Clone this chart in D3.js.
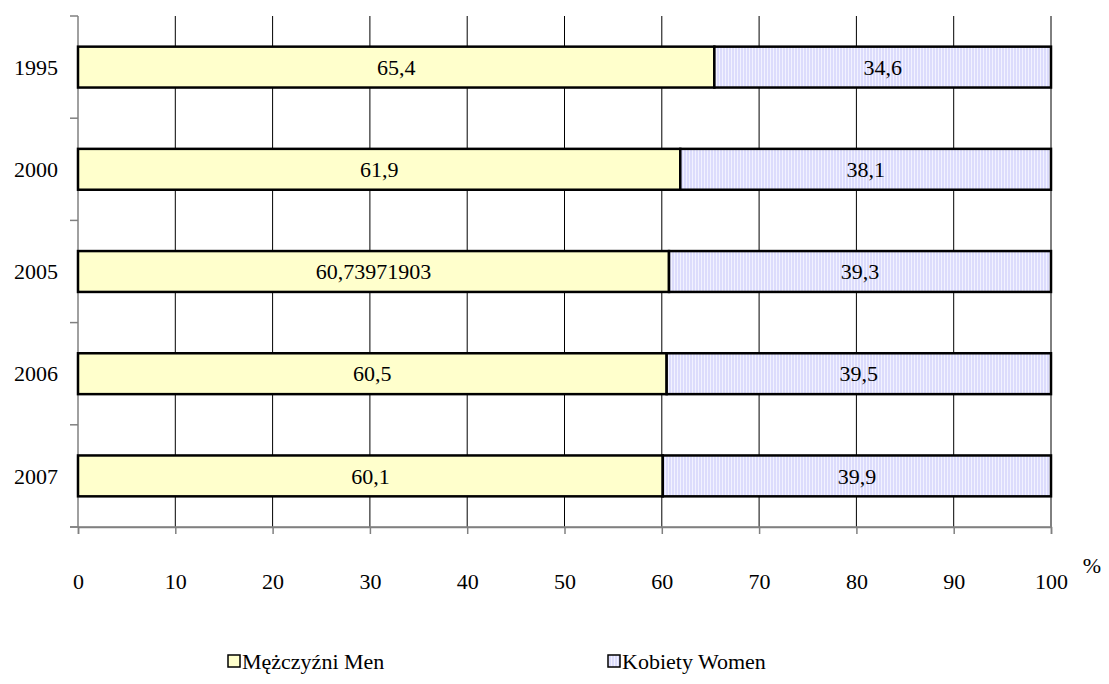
<!DOCTYPE html>
<html><head><meta charset="utf-8">
<script src="https://cdn.jsdelivr.net/npm/d3@7"></script>
<style>body{margin:0;background:#fff}svg{display:block}text{font-family:"Liberation Serif","Times New Roman",serif;fill:#000}</style>
</head><body>
<svg id="c" width="1109" height="684"></svg>
<script>
const categories = ["1995","2000","2005","2006","2007"];
const menValues = [65.4, 61.9, 60.73971903, 60.5, 60.1];
const womenValues = [34.6, 38.1, 39.3, 39.5, 39.9];
const xTicks = [0,10,20,30,40,50,60,70,80,90,100];
const seriesNames = ["Mężczyźni Men","Kobiety Women"];
const fmt = v => String(v).replace(".", ",");
const FS = 22;

const svg = d3.select("#c");
const defs = svg.append("defs");
const pat = defs.append("pattern").attr("id","stripes").attr("patternUnits","userSpaceOnUse")
  .attr("width",3).attr("height",10);
pat.append("rect").attr("width",3).attr("height",10).attr("fill","#dcdcfc");
pat.append("rect").attr("x",2).attr("width",1).attr("height",10).attr("fill","#f2f2ff");

const x = d3.scaleLinear().domain([0,100]).range([78,1051]);
const y = d3.scaleBand().domain(categories).range([16,527]).paddingInner(0.6).paddingOuter(0.3);

// gridlines
svg.append("g").selectAll("line").data(xTicks.slice(1)).join("line")
  .attr("x1",d=>x(d)).attr("x2",d=>x(d)).attr("y1",16).attr("y2",527)
  .attr("stroke","#000").attr("stroke-width",1);

// x axis
const xa = svg.append("g").attr("transform","translate(0,527)")
  .call(d3.axisBottom(x).tickValues(xTicks).tickSize(7).tickPadding(39).tickFormat(d=>d));
xa.select(".domain").attr("stroke","#808080").attr("stroke-width",1.5);
xa.selectAll(".tick line").attr("stroke","#808080").attr("stroke-width",1.5);
xa.selectAll("text").attr("font-size",FS);

// y axis
const step = y.step();
const bounds = d3.range(categories.length+1).map(i => 16 + i*step);
svg.append("line").attr("x1",x(0)).attr("x2",x(0)).attr("y1",16).attr("y2",527)
  .attr("stroke","#808080").attr("stroke-width",1.5);
svg.append("g").selectAll("line").data(bounds).join("line")
  .attr("x1",70).attr("x2",x(0)).attr("y1",d=>d).attr("y2",d=>d)
  .attr("stroke","#808080").attr("stroke-width",1.5);
svg.append("line").attr("x1",70).attr("x2",x(100)).attr("y1",527).attr("y2",527)
  .attr("stroke","#808080").attr("stroke-width",1.5);
svg.append("g").selectAll("text").data(categories).join("text")
  .attr("x",58).attr("y",d=>y(d)+y.bandwidth()/2).attr("dy","0.35em")
  .attr("text-anchor","end").attr("font-size",FS).text(d=>d);

// bars
const g = svg.append("g");
categories.forEach((c,i)=>{
  const m = menValues[i], w = womenValues[i];
  g.append("rect").attr("x",x(0)).attr("y",y(c)).attr("width",x(m)-x(0)).attr("height",y.bandwidth())
    .attr("fill","#ffffcc").attr("stroke","#000").attr("stroke-width",2.5);
  g.append("rect").attr("x",x(m)).attr("y",y(c)).attr("width",x(Math.min(100,m+w))-x(m)).attr("height",y.bandwidth())
    .attr("fill","url(#stripes)").attr("stroke","#000").attr("stroke-width",2.5);
  g.append("text").attr("x",(x(0)+x(m))/2).attr("y",y(c)+y.bandwidth()/2).attr("dy","0.35em")
    .attr("text-anchor","middle").attr("font-size",FS).text(fmt(m));
  g.append("text").attr("x",(x(m)+x(Math.min(100,m+w)))/2).attr("y",y(c)+y.bandwidth()/2).attr("dy","0.35em")
    .attr("text-anchor","middle").attr("font-size",FS).text(fmt(w));
});

svg.append("text").attr("x",1092).attr("y",573).attr("text-anchor","middle").attr("font-size",FS).text("%");

// legend
const legX = [228, 608];
const legFill = ["#ffffcc","url(#stripes)"];
seriesNames.forEach((n,i)=>{
  svg.append("rect").attr("x",legX[i]).attr("y",655).attr("width",12).attr("height",12)
    .attr("fill",legFill[i]).attr("stroke","#000").attr("stroke-width",1.5);
  svg.append("text").attr("x",legX[i]+14).attr("y",661).attr("dy","0.35em").attr("font-size",FS).text(n);
});
</script>
</body></html>
